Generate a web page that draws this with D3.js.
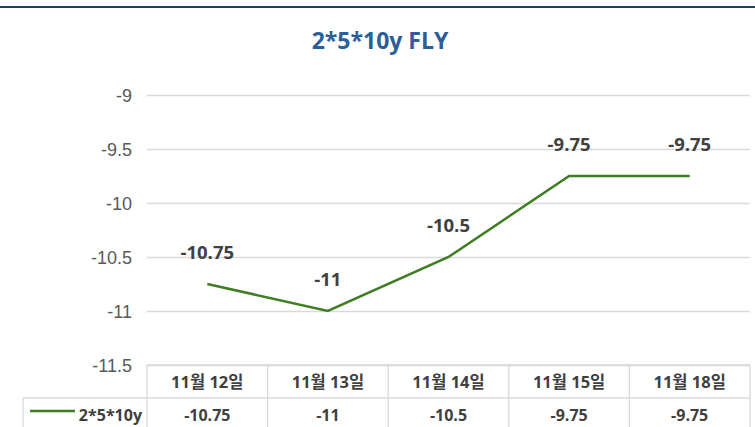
<!DOCTYPE html>
<html>
<head>
<meta charset="utf-8">
<script src="https://cdn.jsdelivr.net/npm/d3@7"></script>
<style>
  body { margin: 0; background: #fff; }
  svg { display: block; font-family: "Open Sans", "Noto Sans CJK KR", sans-serif; }
</style>
</head>
<body>
<svg id="chart" width="755" height="427"></svg>
<script>
// chart data
const categories = ["11월 12일", "11월 13일", "11월 14일", "11월 15일", "11월 18일"];
const values = [-10.75, -11, -10.5, -9.75, -9.75];
const yTicks = [-9, -9.5, -10, -10.5, -11, -11.5];
const seriesName = "2*5*10y";
const title = "2*5*10y FLY";

const W = 755, H = 427;
const plotL = 147, plotR = 750, plotT = 95, plotB = 365;
const green = "#3e7d22";
const textCol = "#404040";

const svg = d3.select("#chart");

// top border line
svg.append("line")
  .attr("x1", 0).attr("x2", W).attr("y1", 7).attr("y2", 7)
  .attr("stroke", "#1f3f66").attr("stroke-width", 2);

svg.append("text")
  .attr("x", 380).attr("y", 49)
  .attr("text-anchor", "middle")
  .attr("font-size", 23).attr("font-weight", "bold")
  .attr("fill", "#2a5f99")
  .text(title);

const x = d3.scaleBand().domain(categories).range([plotL, plotR]);
const y = d3.scaleLinear().domain([-11.5, -9]).range([plotB, plotT]);

// gridlines + y labels
const yAxis = svg.append("g")
  .attr("transform", `translate(${plotL},0)`)
  .call(d3.axisLeft(y).tickValues(yTicks).tickSize(-(plotR - plotL)).tickPadding(15).tickFormat(d => String(d)));
yAxis.select(".domain").remove();
yAxis.selectAll(".tick line").attr("stroke", "#d9d9d9").attr("stroke-width", 1.3);
yAxis.selectAll(".tick text").attr("fill", "#595959").attr("font-size", 18)
  .attr("font-weight", 300).attr("dy", "0.34em");

// line
const line = d3.line()
  .x((d, i) => x(categories[i]) + x.bandwidth() / 2)
  .y(d => y(d));
svg.append("path")
  .datum(values)
  .attr("d", line)
  .attr("fill", "none")
  .attr("stroke", green)
  .attr("stroke-width", 2.5);

// data labels
svg.append("g").selectAll("text")
  .data(values)
  .join("text")
  .attr("x", (d, i) => x(categories[i]) + x.bandwidth() / 2)
  .attr("y", d => y(d) - 25)
  .attr("text-anchor", "middle")
  .attr("font-size", 18.5).attr("font-weight", "bold")
  .attr("fill", textCol)
  .text(d => d);

// data table
const rowH = 33;
const tbl = svg.append("g").attr("stroke", "#d9d9d9").attr("stroke-width", 1.3).attr("fill", "none");
tbl.append("line").attr("x1", plotL).attr("x2", plotR).attr("y1", plotB).attr("y2", plotB);
tbl.append("line").attr("x1", 23).attr("x2", plotR).attr("y1", plotB + rowH).attr("y2", plotB + rowH);
tbl.append("line").attr("x1", 23).attr("x2", 23).attr("y1", plotB + rowH).attr("y2", H);
tbl.selectAll(".v")
  .data(categories.concat(["end"]))
  .join("line")
  .attr("x1", (d, i) => i < categories.length ? x(d) : plotR)
  .attr("x2", (d, i) => i < categories.length ? x(d) : plotR)
  .attr("y1", plotB).attr("y2", H);

svg.append("g").selectAll("text")
  .data(categories)
  .join("text")
  .attr("x", d => x(d) + x.bandwidth() / 2)
  .attr("y", plotB + 23)
  .attr("text-anchor", "middle")
  .attr("font-size", 16.5).attr("font-weight", "bold")
  .attr("fill", textCol)
  .text(d => d);

svg.append("g").selectAll("text")
  .data(values)
  .join("text")
  .attr("x", (d, i) => x(categories[i]) + x.bandwidth() / 2)
  .attr("y", plotB + rowH + 23)
  .attr("text-anchor", "middle")
  .attr("font-size", 16).attr("font-weight", "bold")
  .attr("fill", textCol)
  .text(d => d);

// legend key
svg.append("line")
  .attr("x1", 30).attr("x2", 75)
  .attr("y1", plotB + rowH + 13).attr("y2", plotB + rowH + 13)
  .attr("stroke", green).attr("stroke-width", 2.5);
svg.append("text")
  .attr("x", 142).attr("y", plotB + rowH + 23)
  .attr("text-anchor", "end")
  .attr("font-size", 16).attr("font-weight", "bold")
  .attr("fill", textCol)
  .text(seriesName);
</script>
</body>
</html>
